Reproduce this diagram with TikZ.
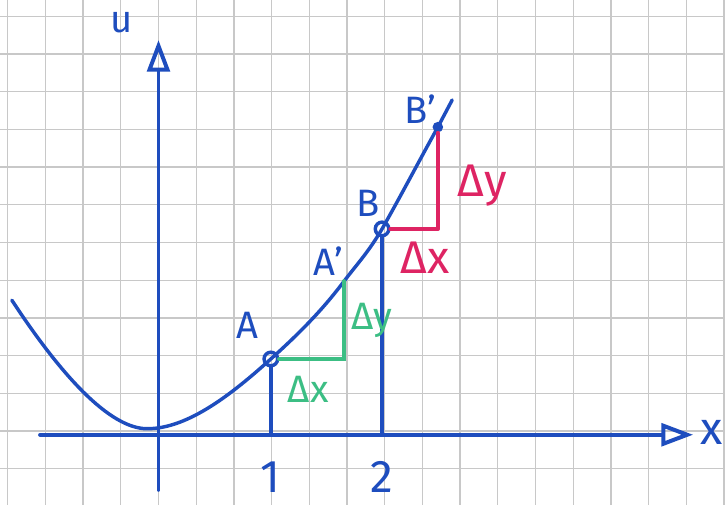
\documentclass[tikz,border=0pt]{standalone}
\usepackage{fontspec}
\setmainfont{Fira Sans}
\usepackage{tikz}
\usetikzlibrary{arrows.meta,calc,positioning}
\definecolor{penBlue}{HTML}{1E4DBE}
\definecolor{penGreen}{HTML}{3CBE84}
\definecolor{penRed}{HTML}{DE2463}
\definecolor{paperGrid}{HTML}{C8C8C8}
\tikzset{
  pen/.style={line width=1.3pt, draw=penBlue, line cap=round},
  curve/.style={pen, line join=round},
  axis arrow/.style={pen, line width=1.5pt,
    -{Triangle[open, length=4.2mm, width=3mm]}},
  green step/.style={line width=1.7pt, draw=penGreen, line cap=round},
  red step/.style={line width=1.6pt, draw=penRed, line cap=round,
    line join=round},
  hollow point/.style={circle, draw=penBlue, line width=1.3pt,
    minimum size=1.8mm, inner sep=0pt},
  solid point/.style={circle, fill=penBlue, minimum size=1.4mm,
    inner sep=0pt},
  hand label/.style={font=\Large, text=penBlue, inner sep=1pt},
  tick label/.style={font=\LARGE, text=penBlue, inner sep=1pt},
  green label/.style={font=\Large, text=penGreen, inner sep=1pt},
  red label/.style={font=\LARGE, text=penRed, inner sep=1pt},
  paper grid/.style={draw=paperGrid, line width=0.5pt, step=0.5cm}
}
\begin{document}
\begin{tikzpicture}[x=0.5cm, y=0.5cm]
  \useasboundingbox[fill=white] (-4.204,-1.963) rectangle (15.027,11.432);
  \draw[paper grid] (-4.204,-1.963) grid (15.027,11.432);

  \coordinate (xl) at (-3.14,-0.1);
  \coordinate (xr) at (14.18,-0.1);
  \coordinate (yb) at (0,-1.56);
  \coordinate (yt) at (0,10.37);
  \draw[axis arrow] (xl) -- (xr);
  \draw[axis arrow] (yb) -- (yt);
  \node[hand label] (ulab) at (-0.97,10.82) {u};
  \node[tick label] (xlab) at (14.68,-0.05) {x};

  \node[hollow point] (A) at (2.98,1.91) {};
  \coordinate (Ap) at (4.92,3.97);
  \node[hollow point] (B) at (5.93,5.36) {};
  \node[solid point] (Bp) at (7.41,8.06) {};
  \coordinate (cl) at (-3.89,3.47);
  \coordinate (cmin) at (-0.3,0.06);
  \coordinate (ce) at (7.79,8.78);
  \draw[curve] (cl) .. controls (-2.6,1.5) and (-1.3,0.06) .. (cmin)
    .. controls (0.8,0.06) and (1.98,1.01) .. (A.center)
    .. controls (3.68,2.54) and (4.32,3.17) .. (Ap)
    .. controls (5.27,4.43) and (5.58,4.76) .. (B.center)
    .. controls (6.43,6.24) and (6.91,7.16) .. (Bp.center) -- (ce);

  \draw[pen] (A) -- (A |- xl);
  \draw[pen] (B) -- (B |- xl);
  \node[tick label] (one) at (A |- 0,-1.22) {1};
  \node[tick label] (two) at (B |- 0,-1.22) {2};

  \draw[green step] (A) -| (Ap);
  \draw[red step] (B) -| (Bp);

  \node[hand label] (Alab) at (2.35,2.81) {A};
  \node[hand label] (Aplab) at (4.5,4.5) {A'};
  \node[hand label] (Blab) at (5.56,6.05) {B};
  \node[hand label] (Bplab) at (6.95,8.55) {B'};
  \node[green label] (gdx) at (3.97,1.11) {Δx};
  \node[green label] (gdy) at (5.66,2.94) {Δy};
  \node[red label] (rdx) at (7.07,4.59) {Δx};
  \node[red label] (rdy) at (8.59,6.52) {Δy};
\end{tikzpicture}
\end{document}
